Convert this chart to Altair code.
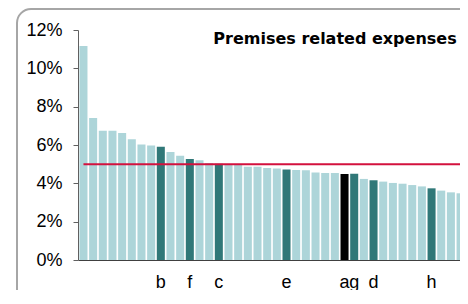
import altair as alt
import pandas as pd

# bar values (%), sorted descending as in the picture
values = [11.17, 7.41, 6.75, 6.75, 6.63, 6.30, 6.03, 5.98, 5.91, 5.63,
          5.44, 5.27, 5.20, 5.06, 5.02, 4.99, 4.97, 4.87, 4.87, 4.80,
          4.78, 4.72, 4.70, 4.68, 4.57, 4.54, 4.54, 4.49, 4.50, 4.23,
          4.16, 4.09, 4.02, 3.98, 3.91, 3.84, 3.74, 3.62, 3.53, 3.48, 2.92]
labels = ["", "", "", "", "", "", "", "", "b", "",
          "", "f", "", "", "c", "", "", "", "", "",
          "", "e", "", "", "", "", "", "a", "g", "",
          "d", "", "", "", "", "", "h", "", "", "", ""]
kinds = ["self" if l == "a" else ("peer" if l else "other") for l in labels]
benchmark = 5.0
title_text = "Premises related expenses"
y_ticks = [0, 2, 4, 6, 8, 10, 12]

df = pd.DataFrame({"idx": list(range(len(values))), "value": values,
                   "label": labels, "kind": kinds})
bench_df = pd.DataFrame({"idx": list(range(len(values))),
                         "value": [benchmark] * len(values)})

label_expr = "[" + ",".join("'%s'" % l for l in labels) + "][datum.value]"

x_scale = alt.Scale(range=[0, 397.7], paddingInner=0.17, paddingOuter=0.15)
y_scale = alt.Scale(domain=[0, 12], nice=False)

x_axis = alt.Axis(title=None, ticks=False, tickSize=0, labelAngle=0,
                  labelExpr=label_expr, labelOverlap=False,
                  labelFont="Liberation Sans", labelFontSize=18,
                  labelColor="#000000", labelPadding=13,
                  domainColor="#404040", domainWidth=1)
y_axis = alt.Axis(title=None, values=y_ticks, grid=False,
                  labelExpr="datum.value + '%'", tickSize=5,
                  labelOverlap=False, tickCount=7,
                  tickColor="#606060", domainColor="#606060",
                  labelFont="Liberation Sans", labelFontSize=18,
                  labelColor="#000000", labelPadding=11)

W, H = 382, 230

frame = alt.Chart(alt.Data(values=[{}])).mark_rect(
    filled=False, stroke="#a6a6a6", strokeWidth=2, cornerRadius=14, clip=False
).encode(
    x=alt.value(-61), x2=alt.value(W + 20), y=alt.value(-21), y2=alt.value(H + 50)
)

bars = alt.Chart(df).mark_bar(clip=True).encode(
    x=alt.X("idx:O", scale=x_scale, sort=None, axis=x_axis),
    y=alt.Y("value:Q", scale=y_scale, axis=y_axis),
    color=alt.Color("kind:N", legend=None,
                    scale=alt.Scale(domain=["other", "peer", "self"],
                                    range=["#add5d9", "#307878", "#000000"])),
)

line = alt.Chart(bench_df).mark_line(color="#d3113e", strokeWidth=2, clip=True).encode(
    x=alt.X("idx:O", scale=x_scale, sort=None, axis=x_axis),
    y=alt.Y("value:Q", scale=y_scale, axis=y_axis),
)

title = alt.Chart(alt.Data(values=[{}])).mark_text(
    text=title_text, font="DejaVu Sans", fontSize=16, fontWeight="bold",
    align="right", baseline="alphabetic", color="#000000"
).encode(x=alt.value(378.7), y=alt.value(14))

chart = alt.layer(frame, bars, line, title).properties(
    width=W, height=H,
    padding={"left": 70, "top": 22, "right": 0, "bottom": 30},
    autosize=alt.AutoSizeParams(type="none"),
).configure_view(stroke=None)

chart.save("out.html", embed_options={"renderer": "svg", "actions": False})
